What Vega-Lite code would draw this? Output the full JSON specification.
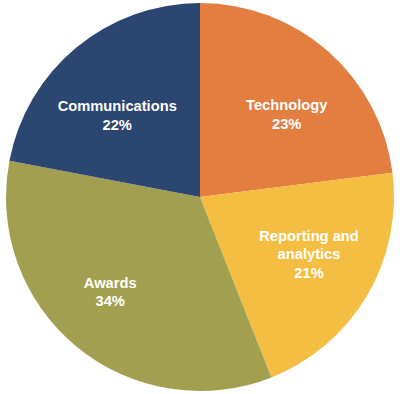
{
  "$schema": "https://vega.github.io/schema/vega-lite/v6.json",
  "width": 400,
  "height": 394,
  "autosize": {"type": "fit", "contains": "padding"},
  "padding": 0,
  "background": "white",
  "view": {"stroke": null},
  "data": {
    "values": [
      {"category": "Technology", "share": 23, "rank": 1, "label": "Technology\n23%"},
      {"category": "Reporting and analytics", "share": 21, "rank": 2, "label": "Reporting and\nanalytics\n21%"},
      {"category": "Awards", "share": 34, "rank": 3, "label": "Awards\n34%"},
      {"category": "Communications", "share": 22, "rank": 4, "label": "Communications\n22%"}
    ]
  },
  "encoding": {
    "theta": {"field": "share", "type": "quantitative", "stack": true},
    "order": {"field": "rank", "type": "quantitative"}
  },
  "layer": [
    {
      "mark": {"type": "arc", "outerRadius": 194},
      "encoding": {
        "color": {
          "field": "category",
          "type": "nominal",
          "legend": null,
          "scale": {
            "domain": ["Technology", "Reporting and analytics", "Awards", "Communications"],
            "range": ["#E37E40", "#F4BE43", "#A39F50", "#2A4671"]
          }
        }
      }
    },
    {
      "mark": {"type": "text", "radius": 122, "dx": 6, "dy": 1, "lineBreak": "\n", "lineHeight": 18.3, "font": "Liberation Sans", "fontWeight": "bold", "fontSize": 14.7, "fill": "white", "align": "center", "baseline": "middle"},
      "encoding": {
        "text": {"condition": {"test": "datum.rank == 1", "field": "label"}, "value": ""}
      }
    },
    {
      "mark": {"type": "text", "radius": 122, "dx": 4, "dy": -22, "lineBreak": "\n", "lineHeight": 18.3, "font": "Liberation Sans", "fontWeight": "bold", "fontSize": 14.7, "fill": "white", "align": "center", "baseline": "middle"},
      "encoding": {
        "text": {"condition": {"test": "datum.rank == 2", "field": "label"}, "value": ""}
      }
    },
    {
      "mark": {"type": "text", "radius": 122, "dx": -12, "dy": -7.5, "lineBreak": "\n", "lineHeight": 18.3, "font": "Liberation Sans", "fontWeight": "bold", "fontSize": 14.7, "fill": "white", "align": "center", "baseline": "middle"},
      "encoding": {
        "text": {"condition": {"test": "datum.rank == 3", "field": "label"}, "value": ""}
      }
    },
    {
      "mark": {"type": "text", "radius": 122, "dx": -5, "dy": 4.5, "lineBreak": "\n", "lineHeight": 18.3, "font": "Liberation Sans", "fontWeight": "bold", "fontSize": 14.7, "fill": "white", "align": "center", "baseline": "middle"},
      "encoding": {
        "text": {"condition": {"test": "datum.rank == 4", "field": "label"}, "value": ""}
      }
    }
  ]
}
